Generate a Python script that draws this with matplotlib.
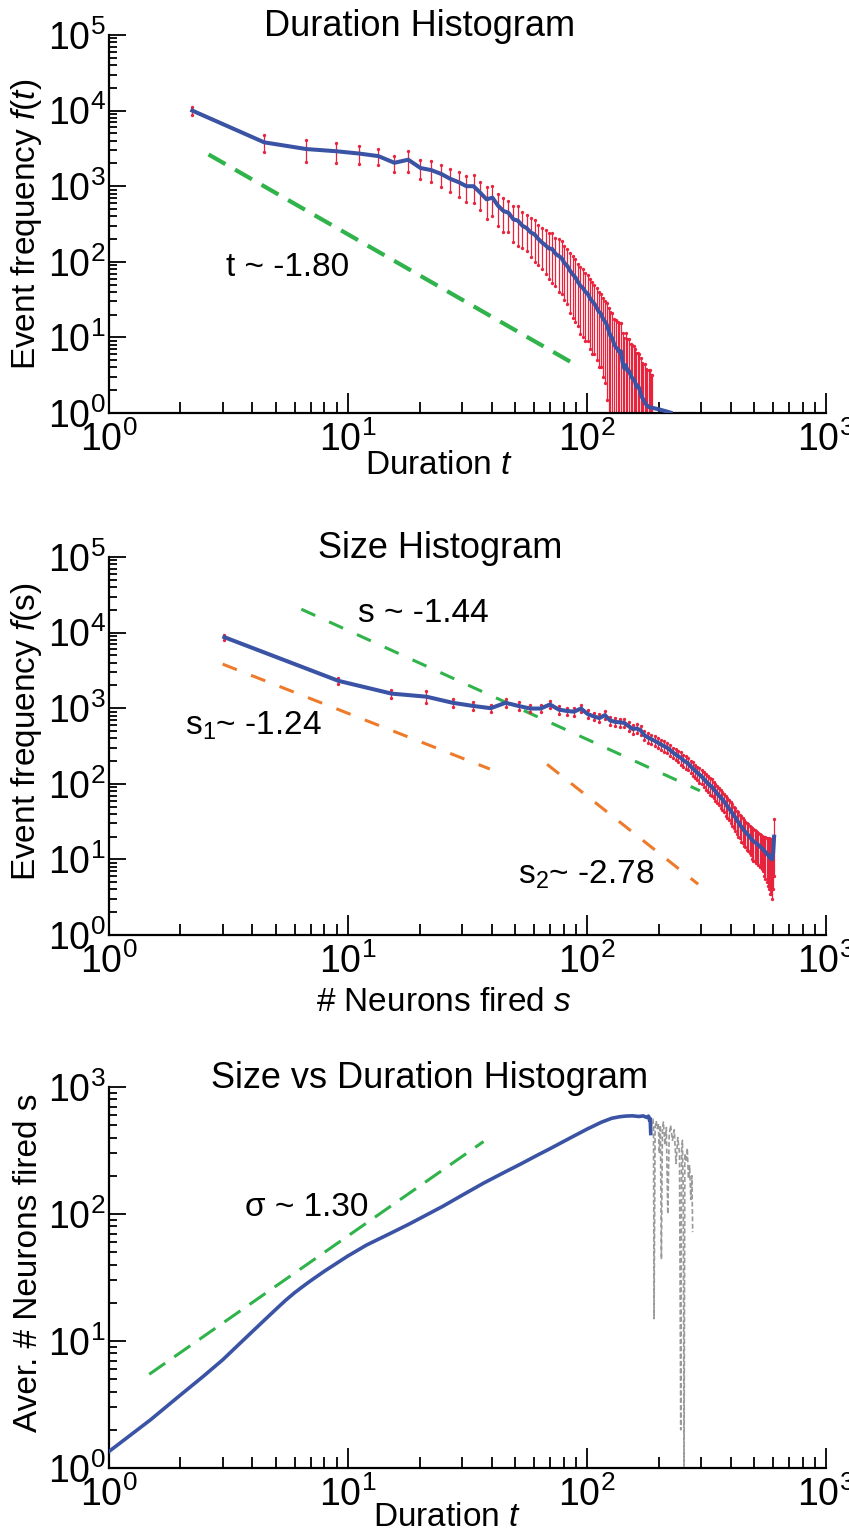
import numpy as np
import matplotlib
matplotlib.use("Agg")
import matplotlib.pyplot as plt
from matplotlib.ticker import LogLocator, NullFormatter

plt.rcParams['font.family'] = ['Liberation Sans', 'DejaVu Sans']
plt.rcParams['mathtext.fontset'] = 'custom'
plt.rcParams['mathtext.rm'] = 'Liberation Sans'
plt.rcParams['mathtext.it'] = 'Liberation Sans:italic'
plt.rcParams['mathtext.default'] = 'regular'
plt.rcParams['lines.scale_dashes'] = False

BLUE = '#3a53a4'
RED = '#e8233d'
GREEN = '#2fb34a'
ORANGE = '#ee7b2c'
GRAY = '#9a9a9a'

# ---- duration histogram (bin width 2.24) ----
dur_bin = 2.24
dur_freq = [10000, 3800, 3100, 2900, 2700, 2500, 2040, 2240, 1740, 1630,
            1450, 1250, 1130, 1000, 1000, 820, 670, 705, 550, 470,
            445, 365, 350, 300, 280, 245, 230, 200, 180, 165,
            150, 148, 128, 120, 112, 96, 88, 76, 68, 62,
            54, 48, 45, 40, 38, 33, 30, 28, 25, 22,
            21, 18, 16.5, 15, 12.5, 10.5, 9.8, 8.2, 7.4, 7.0,
            6.4, 6.6, 4.6, 3.9, 4.3, 3.6, 3.6, 3.2, 2.9, 2.8,
            2.6, 2.2, 2.3, 2.1, 1.8, 1.6, 1.5, 1.4, 1.3, 1.25,
            1.2, 1.19, 1.18, 1.17, 1.16, 1.15, 1.14, 1.13, 1.12, 1.11,
            1.10, 1.09, 1.08, 1.07, 1.06, 1.05, 1.04, 1.03, 1.02, 1.01]
dur_err = [1200, 950, 1000, 850, 750, 600, 500, 700, 500, 500,
           480, 420, 400, 380, 400, 330, 300, 300, 250, 220,
           200, 180, 190, 150, 140, 130, 130, 110, 100, 95,
           90, 95, 80, 80, 75, 65, 60, 55, 50, 46,
           40, 37, 35, 31, 29, 26, 24, 22, 20, 18,
           17, 15, 14, 13.5, 12, 11, 11, 9.5, 9.5, 9,
           9, 9, 7, 6, 7, 6, 6, 5, 5, 5,
           4.5, 4, 4, 4, 3.5, 3, 3, 3, 2.5, 2.5,
           2.5, 2.5, 2, 2, 0, 0, 0, 0, 0, 0,
           0, 0, 0, 0, 0, 0, 0, 0, 0, 0]
dur_fit = ([2.62, 87], [2630, 4.6])

# ---- size histogram (bin width 6.1) ----
size_bin = 6.1
size_freq = [8700, 2300, 1560, 1420, 1180, 1070, 1000, 1180, 1070, 990,
             990, 1120, 960, 920, 900, 990, 840, 780, 740, 810,
             690, 660, 650, 640, 580, 530, 540, 510, 440, 410,
             390, 370, 350, 330, 315, 300, 280, 260, 245, 232,
             220, 205, 195, 185, 170, 160, 150, 140, 132, 125,
             116, 108, 102, 95, 92, 85, 80, 74, 70, 66,
             62, 58, 54, 50, 47, 44, 41, 38, 36, 33,
             31, 29, 27, 26, 24, 23, 22, 21, 20, 19,
             18, 17.5, 17, 16.5, 16, 15.5, 15, 14.5, 14, 13.5,
             13, 12.5, 12, 11.5, 11.5, 10.5, 11, 10, 12, 20]
size_err = [700, 230, 180, 250, 150, 130, 110, 130, 120, 110,
            110, 120, 110, 100, 100, 110, 100, 90, 90, 100,
            85, 80, 80, 80, 75, 70, 70, 65, 60, 60,
            58, 55, 55, 50, 50, 48, 45, 42, 40, 40,
            40, 38, 36, 35, 33, 32, 30, 29, 28, 27,
            26, 25, 24, 23, 22, 21, 20, 19, 18, 18,
            17, 16, 16, 15, 14, 14, 13, 12, 12, 11,
            11, 10, 10, 9.5, 9, 8.5, 8.5, 8, 8, 7.5,
            8, 8, 7.5, 7.5, 7, 7, 7, 6.5, 6.5, 6.5,
            7, 7, 7, 7, 7.5, 7, 7.5, 7, 8, 14]
size_fit = ([6.4, 297], [20400, 81])
size_fit1 = ([3.0, 39.3], [3830, 157])
size_fit2 = ([68.2, 292], [181, 4.7])

# ---- average size vs duration ----
avg_t = [1, 1.5, 2, 2.5, 3, 4, 5, 5.5, 6, 6.5, 7, 8, 10, 12, 15, 18, 21,
         25, 30, 37, 45, 53, 62, 70, 85, 100, 115, 127, 137, 145, 155, 165,
         172, 178, 181, 183, 184, 185]
avg_s = [1.34, 2.4, 3.76, 5.3, 7.1, 11.9, 17.7, 20.9, 24.0, 26.9, 29.8,
         35.5, 46.6, 57, 70, 83, 96.7, 115, 140, 175, 212, 248, 290, 326,
         396, 465, 528, 567, 583, 590, 593, 586, 592, 576, 590, 545, 565, 430]
tail_t = [185, 187, 189, 190, 191, 193, 195, 197, 199, 201, 203, 205, 207,
          209, 212, 215, 218, 221, 224, 228, 232, 236, 240, 244, 247, 249,
          251, 253, 255, 257, 260, 263, 266, 269, 272, 275, 277]
tail_s = [430, 520, 560, 500, 15, 480, 540, 470, 520, 300, 500, 44, 460,
          530, 350, 480, 100, 420, 500, 380, 460, 250, 400, 300, 2.0, 320,
          380, 150, 1.0, 300, 260, 330, 190, 240, 130, 200, 72]
avg_fit = ([1.48, 37], [5.47, 372])


def style_axis(ax, ymax):
    ax.set_xscale('log')
    ax.set_yscale('log')
    ax.set_xlim(1, 1000)
    ax.set_ylim(1, ymax)
    for side in ['top', 'right']:
        ax.spines[side].set_visible(False)
    for side in ['left', 'bottom']:
        ax.spines[side].set_linewidth(1.6)
    ax.xaxis.set_major_locator(LogLocator(base=10, numticks=10))
    ax.xaxis.set_minor_locator(LogLocator(base=10, subs=np.arange(2, 10), numticks=20))
    ax.yaxis.set_major_locator(LogLocator(base=10, numticks=10))
    ax.yaxis.set_minor_locator(LogLocator(base=10, subs=np.arange(2, 10), numticks=20))
    ax.xaxis.set_minor_formatter(NullFormatter())
    ax.yaxis.set_minor_formatter(NullFormatter())
    ax.tick_params(axis='x', which='major', direction='in', length=14.5, width=1.3,
                   labelsize=27, pad=6)
    ax.tick_params(axis='x', which='minor', direction='in', length=8, width=1.3)
    ax.tick_params(axis='y', which='major', direction='in', length=12, width=1.3,
                   labelsize=27, pad=2)
    ax.tick_params(axis='y', which='minor', direction='in', length=5.5, width=1.3)


def histogram(ax, x, f, err):
    x = np.asarray(x)
    f = np.asarray(f)
    err = np.asarray(err)
    ax.errorbar(x, f, yerr=err, fmt='none', ecolor=RED, elinewidth=0.9,
                capsize=0, zorder=2)
    has = err > 0
    ax.plot(x[has], (f + err)[has], 'o', color=RED, ms=2.4, mew=0, zorder=2)
    ax.plot(x[has], (f - err)[has], 'o', color=RED, ms=2.4, mew=0, zorder=2)
    ax.plot(x, f, color=BLUE, lw=2.9, zorder=3)


fig = plt.figure(figsize=(8.49, 15.34), dpi=100)
L, W = 108.5 / 849, 717.5 / 849
ax1 = fig.add_axes([L, (1534 - 413) / 1534, W, 378 / 1534])
ax2 = fig.add_axes([L, (1534 - 935) / 1534, W, 378 / 1534])
ax3 = fig.add_axes([L, (1534 - 1468) / 1534, W, 381 / 1534])

# top: duration histogram
style_axis(ax1, 1e5)
t = dur_bin * np.arange(1, len(dur_freq) + 1)
histogram(ax1, t, dur_freq, dur_err)
ax1.plot(dur_fit[0], dur_fit[1], color=GREEN, lw=3, dashes=(14, 8), zorder=1)
ax1.text(3.1, 85, 't ~ -1.80', fontsize=24, va='center', ha='left')
ax1.set_title('Duration Histogram', fontsize=26, x=0.434, y=1.0, pad=-1)
ax1.set_xlabel(r'Duration $\mathit{t}$', fontsize=24)
ax1.xaxis.set_label_coords(0.46, -0.098)
ax1.set_ylabel(r'Event frequency $\mathit{f}$($\mathit{t}$)', fontsize=24)
ax1.yaxis.set_label_coords(-0.09, 0.5)

# middle: size histogram
style_axis(ax2, 1e5)
s = size_bin * (np.arange(len(size_freq)) + 0.5)
histogram(ax2, s, size_freq, size_err)
ax2.plot(size_fit[0], size_fit[1], color=GREEN, lw=2.2, dashes=(11, 11), zorder=1)
ax2.plot(size_fit1[0], size_fit1[1], color=ORANGE, lw=2.2, dashes=(11, 11), zorder=1)
ax2.plot(size_fit2[0], size_fit2[1], color=ORANGE, lw=2.2, dashes=(11, 11), zorder=1)
ax2.text(11.0, 18000, 's ~ -1.44', fontsize=24, va='center', ha='left')
ax2.text(2.09, 585, r's$_1$~ -1.24', fontsize=24, va='center', ha='left')
ax2.text(51.5, 6.3, r's$_2$~ -2.78', fontsize=24, va='center', ha='left')
ax2.set_title('Size Histogram', fontsize=26, x=0.462, y=1.0, pad=-1)
ax2.set_xlabel(r'# Neurons fired $\mathit{s}$', fontsize=24)
ax2.xaxis.set_label_coords(0.467, -0.137)
ax2.set_ylabel(r'Event frequency $\mathit{f}$(s)', fontsize=24)
ax2.yaxis.set_label_coords(-0.09, 0.537)

# bottom: average size vs duration
style_axis(ax3, 1e3)
ax3.plot(tail_t, tail_s, color=GRAY, lw=1.2, dashes=(3.5, 1.8), zorder=1)
ax3.plot(avg_t, avg_s, color=BLUE, lw=2.6, zorder=3)
ax3.plot(avg_fit[0], avg_fit[1], color=GREEN, lw=2.2, dashes=(14, 8), zorder=2)
ax3.text(3.72, 112, 'σ ~ 1.30', fontsize=24, va='center', ha='left')
ax3.set_title('Size vs Duration Histogram', fontsize=26, x=0.448, y=1.0, pad=-1)
ax3.set_xlabel(r'Duration $\mathit{t}$', fontsize=24)
ax3.xaxis.set_label_coords(0.472, -0.09)
ax3.set_ylabel('Aver. # Neurons fired s', fontsize=24)
ax3.yaxis.set_label_coords(-0.09, 0.538)

fig.savefig('out.png', dpi=100)
